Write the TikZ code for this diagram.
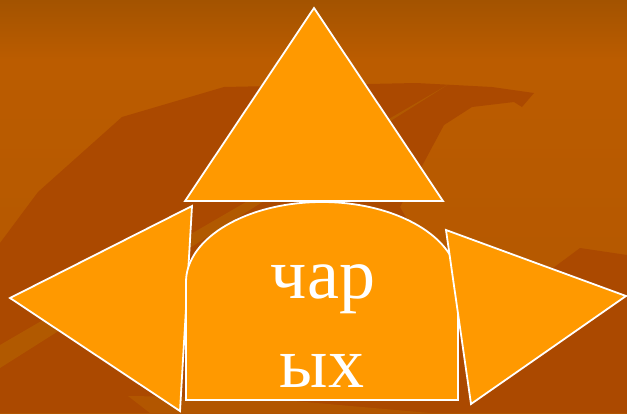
\documentclass[tikz,border=0pt]{standalone}
\usepackage{fontspec}
\setmainfont{Liberation Serif}
\definecolor{bgtop}{HTML}{A35300}
\definecolor{bglight}{HTML}{BB5C00}
\definecolor{bgbottom}{HTML}{B25600}
\definecolor{bgdark}{HTML}{AB4900}
\definecolor{bgstripe}{HTML}{B46000}
\definecolor{tileorange}{HTML}{FF9900}
\begin{document}
\begin{tikzpicture}[x=1pt,y=-1pt,
  piece/.style={fill=tileorange,draw=white,line width=1.8pt,line join=miter},
  word/.style={text=white,font=\fontsize{72}{86}\selectfont,anchor=base,inner sep=0pt}]
\useasboundingbox (0,0) rectangle (627,413);
% background
\shade[top color=bgtop,bottom color=bglight] (0,0) rectangle (627,60);
\shade[top color=bglight,bottom color=bgbottom] (0,60) rectangle (627,413);
\fill[bgdark] (0,243) -- (38,192) -- (122,117) -- (224,87) -- (416,83) -- (492,87)
   -- (534,93) -- (522,107) -- (514,102) -- (472,107) -- (444,125) -- (400,207)
   -- (470,330) -- (580,248) -- (627,255) -- (627,413) -- (0,413) -- cycle;
\fill[bgstripe,opacity=.7] (449,84) -- (0,345) -- (0,368) -- cycle;
\fill[bgbottom] (128,396) -- (260,398) -- (430,413) -- (150,413) -- cycle;
% pieces
\draw[piece] (192,206) -- (10,298) -- (180,411) -- cycle;
\draw[piece] (186,400) -- (186,282) .. controls (186,238) and (247,202) .. (322,202)
   .. controls (397,202) and (458,238) .. (458,282) -- (458,400) -- cycle;
\draw[piece] (446,230) -- (626,296) -- (471,404) -- cycle;
\draw[piece] (314,8) -- (443,201) -- (185,201) -- cycle;
\node[word] (top) at (323,298) {чар};
\node[word] (bottom) at (322,387) {ых};
\end{tikzpicture}
\end{document}
